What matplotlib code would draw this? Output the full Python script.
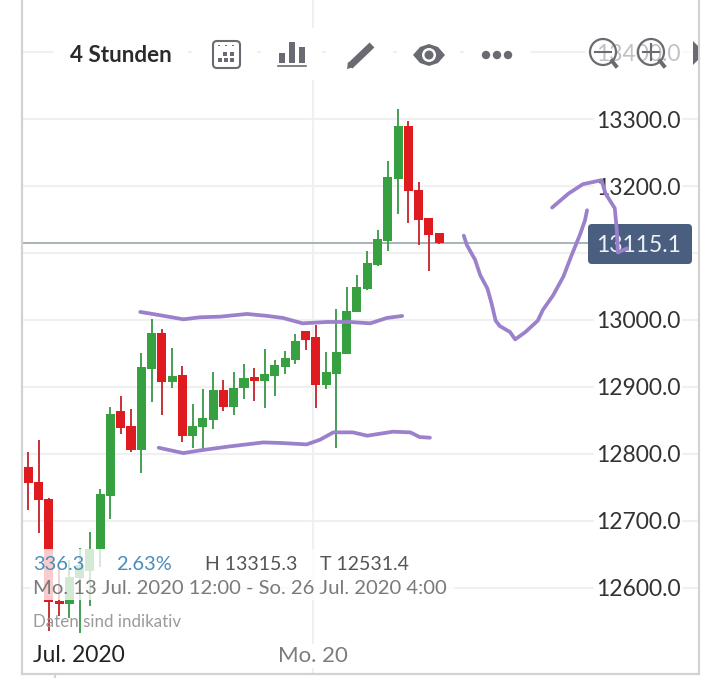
"""4-hour candlestick screenshot with hand-drawn purple strokes."""
import matplotlib
matplotlib.use("Agg")
import matplotlib.pyplot as plt
import numpy as np
from matplotlib.patches import Circle, FancyBboxPatch, Polygon, Rectangle

plt.rcParams["font.family"] = ["Lato", "DejaVu Sans"]

# candles, oldest first
opens = [12780, 12758, 12733, 12580, 12576, 12614, 12625, 12657, 12737, 12864,
         12841, 12806, 12927, 12980, 12907, 12917, 12826, 12840, 12850, 12895,
         12870, 12899, 12915, 12909, 12916, 12929, 12940, 12983, 12974, 12903,
         12919, 12949, 13012, 13046, 13082, 13118, 13211, 13290, 13195, 13152, 13130]
highs = [12803, 12821, 12734, 12629, 12641, 12659, 12683, 12747, 12870, 12886,
         12867, 12950, 13002, 12987, 12958, 12931, 12874, 12897, 12922, 12910,
         12922, 12934, 12928, 12956, 12940, 12953, 12979, 12983, 12992, 12952,
         13016, 13050, 13067, 13103, 13134, 13237, 13315.3, 13298, 13206, 13153, 13130]
lows = [12716, 12682, 12535, 12557, 12555, 12531.4, 12573, 12631, 12703, 12830,
        12803, 12771, 12878, 12858, 12899, 12818, 12809, 12807, 12837, 12864,
        12858, 12882, 12879, 12869, 12887, 12919, 12934, 12955, 12869, 12897,
        12808, 12949, 13012, 13045, 13081, 13103, 13158, 13145, 13112, 13073, 13114]
closes = [12756, 12731, 12579, 12575, 12616, 12634, 12657, 12740, 12860, 12839,
          12806, 12929, 12980, 12908, 12916, 12826, 12842, 12853, 12895, 12870,
          12899, 12914, 12909, 12919, 12932, 12943, 12968, 12970, 12903, 12922,
          12952, 13014, 13049, 13085, 13121, 13213, 13290, 13193, 13150, 13127, 13115.1]

last_price = 13115.1
price_ticks = [12600, 12700, 12800, 12900, 13000, 13100, 13200, 13300, 13400]
price_labels = ["12600.0", "12700.0", "12800.0", "12900.0", "13000.0", "", "13200.0", "13300.0", "13400.0"]
monday_bar = 27.7

# hand-drawn strokes as (bar, price)
upper_band_x = [10.9, 12.1, 15.1, 16.7, 18.7, 21.3, 23.3, 24.8, 26.7, 29.1, 31.3, 33.3, 34.9, 36.4]
upper_band_y = [13012, 13009, 13001, 13004, 13005, 13009, 13006, 13003, 12995, 12997, 12997, 12995, 13003, 13006]
lower_band_x = [12.7, 15.1, 16.7, 19.6, 22.9, 24.8, 27.1, 28.4, 29.7, 31.6, 33.0, 35.5, 37.2, 38.1, 39.1]
lower_band_y = [12809, 12801, 12805, 12811, 12817, 12816, 12814, 12821, 12832, 12832, 12827, 12833, 12832, 12825, 12824]
dip_x = [42.4, 42.7, 43.5, 44.0, 44.7, 45.1, 45.5, 45.9, 46.9, 47.4, 48.4, 49.6, 50.1, 51.1, 52.1, 52.9, 53.7, 54.2, 54.4]
dip_y = [13126, 13112, 13090, 13067, 13047, 13025, 12999, 12991, 12982, 12971, 12982, 12999, 13015, 13037, 13065, 13097, 13127, 13149, 13164]
hook_x = [51.0, 52.6, 54.0, 55.8, 56.2, 57.1, 57.3, 57.4, 58.3]
hook_y = [13168, 13189, 13203, 13209, 13189, 13167, 13134, 13101, 13107]

GREEN, RED = "#37a040", "#e01b1f"
GREEN_WICK, RED_WICK = "#3f9a4c", "#c52a30"
PURPLE = "#9b80cb"
GRID, BORDER, ICON = "#f0f0f0", "#d2d2d2", "#6a6a72"
BADGE = "#4a5f7f"


def draw_candles(ax):
    x = np.arange(len(opens))
    o, c = np.array(opens), np.array(closes)
    up = c >= o
    ax.vlines(x, lows, highs, colors=np.where(up, GREEN_WICK, RED_WICK), lw=1.35, zorder=3)
    ax.bar(x, np.abs(c - o), bottom=np.minimum(o, c), width=0.88,
           color=np.where(up, GREEN, RED), zorder=3.2)


def draw_icons(ui):
    # calendar
    ui.add_patch(FancyBboxPatch((213, 41), 27, 27, boxstyle="round,pad=0,rounding_size=4",
                                fc="white", ec=ICON, lw=1.5))
    for px in (219, 226, 233):
        ui.add_patch(Rectangle((px - 0.8, 44.5), 1.6, 1.6, fc=ICON, ec="none"))
    for px, py in [(225, 54), (232, 54), (220, 60), (226, 60), (232, 60)]:
        ui.add_patch(Rectangle((px - 2, py - 2), 4, 4, fc=ICON, ec="none"))
    # bars
    for left, top in [(279, 53), (289, 42), (299, 47)]:
        ui.add_patch(Rectangle((left, top), 6, 63 - top, fc=ICON, ec="none"))
    ui.plot([278, 306], [66, 66], color=ICON, lw=1.2)
    # pencil
    ui.plot([350, 372], [66, 45], color=ICON, lw=5, solid_capstyle="butt")
    ui.add_patch(Polygon([[347, 69], [348, 62], [354, 67]], fc=ICON, ec="none"))
    # eye
    ui.add_patch(Polygon([[413, 55], [420, 47], [429, 44], [438, 47], [445, 55],
                          [438, 63], [429, 66], [420, 63]], fc=ICON, ec="none"))
    ui.add_patch(Circle((429, 55), 7, fc="white", ec="none"))
    ui.add_patch(Circle((429, 55), 4.5, fc=ICON, ec="none"))
    # dots
    for px in (486, 497, 508):
        ui.add_patch(Circle((px, 55), 4.2, fc=ICON, ec="none"))
    # magnifiers
    for cx, sign in [(603, "-"), (651, "+")]:
        ui.add_patch(Circle((cx, 52), 13, fc="none", ec=ICON, lw=1.6))
        ui.plot([cx + 9, cx + 13], [61, 66], color=ICON, lw=2.8)
        ui.plot([cx - 8, cx + 8], [52, 52], color=ICON, lw=1.5)
        if sign == "+":
            ui.plot([cx, cx], [44, 60], color=ICON, lw=1.5)
    # scroll arrow
    ui.add_patch(Polygon([[693, 41], [698, 46], [698, 60], [693, 65]], fc=ICON, ec="none"))


def main():
    fig = plt.figure(figsize=(7.2, 6.78), dpi=100, facecolor="white")
    ax = fig.add_axes([22 / 720, 4 / 678, 677 / 720, 674 / 678])
    ui = fig.add_axes([0, 0, 1, 1], facecolor="none")
    ui.set_xlim(0, 720); ui.set_ylim(678, 0); ui.axis("off")

    ax.set_axisbelow(True)
    ax.grid(True, color=GRID, lw=1.5)
    # last-price line stops at the badge
    ax.hlines(last_price, -0.613, 55, color="#a9b3b6", lw=1.4, zorder=1.5)
    draw_candles(ax)

    # badge sits under the purple strokes
    ax.add_patch(FancyBboxPatch((588, 224), 104, 40, boxstyle="round,pad=0,rounding_size=4",
                                fc=BADGE, ec="none", transform=ui.transData, zorder=4))
    ax.text(639, 245, f"{last_price:.1f}", color="#eef1f5", fontsize=16.5, ha="center", va="center",
            transform=ui.transData, zorder=4.1)

    for sx, sy in [(upper_band_x, upper_band_y), (lower_band_x, lower_band_y),
                   (dip_x, dip_y), (hook_x, hook_y)]:
        ax.plot(sx, sy, color=PURPLE, lw=2.7, solid_capstyle="round", solid_joinstyle="round", zorder=5)

    ax.set_xlim(-0.613, 65.3)
    ax.set_ylim(12470.8, 13478.3)
    ax.set_xticks([monday_bar]); ax.set_xticklabels(["Mo. 20"])
    ax.set_yticks(price_ticks); ax.set_yticklabels(price_labels)
    ax.yaxis.tick_right()
    ax.tick_params(axis="y", length=0, pad=-13.5, labelsize=16.5, labelcolor="#333333")
    ax.tick_params(axis="x", length=0, pad=-20.5, labelsize=16, labelcolor="#7c7c7c")
    for lab in ax.get_yticklabels():
        lab.set_ha("right")
        lab.set_bbox(dict(fc="white", ec="none", pad=1.5))
    for lab in ax.get_xticklabels():
        lab.set_bbox(dict(fc="white", ec="none", pad=1.5))
    ax.spines["top"].set_visible(False)
    for sp in ("left", "right", "bottom"):
        ax.spines[sp].set_color(BORDER)
        ax.spines[sp].set_linewidth(1.6)

    # toolbar: white boxes break the 13400 gridline and the Monday line
    for x0, x1 in [(54, 188), (192, 257), (261, 322), (326, 393), (397, 460), (464, 530)]:
        ui.add_patch(Rectangle((x0, 28), x1 - x0, 52, fc="white", ec="none"))
    ui.add_patch(Rectangle((585, 30), 112, 50, fc="white", ec="none", alpha=0.7))
    ui.text(70, 55, "4 Stunden", fontsize=16.2, fontweight="bold", color="#2b2b2b", va="center")
    draw_icons(ui)

    # info overlay fades the candles behind it
    ui.add_patch(Rectangle((30, 549), 425, 51, fc="white", ec="none", alpha=0.78))
    ui.text(33, 564, "336.3", fontsize=14.4, color="#4a8dbc", va="center")
    ui.text(116, 564, "2.63%", fontsize=14.4, color="#4a8dbc", va="center")
    ui.text(205, 564, "H 13315.3", fontsize=14, color="#555555", va="center")
    ui.text(320, 564, "T 12531.4", fontsize=14, color="#555555", va="center")
    ui.text(33, 588, "Mo. 13 Jul. 2020 12:00 - So. 26 Jul. 2020 4:00", fontsize=14.6,
            color="#7a7a7a", va="center")
    ui.text(33, 622, "Daten sind indikativ", fontsize=12.2, color="#9a9a9a", va="center")
    ui.text(33, 656, "Jul. 2020", fontsize=16.5, color="#222222", va="center")
    ui.plot([55, 55], [674, 678], color=BORDER, lw=1.5)

    fig.savefig("out.png", dpi=100, facecolor="white")


if __name__ == "__main__":
    main()
